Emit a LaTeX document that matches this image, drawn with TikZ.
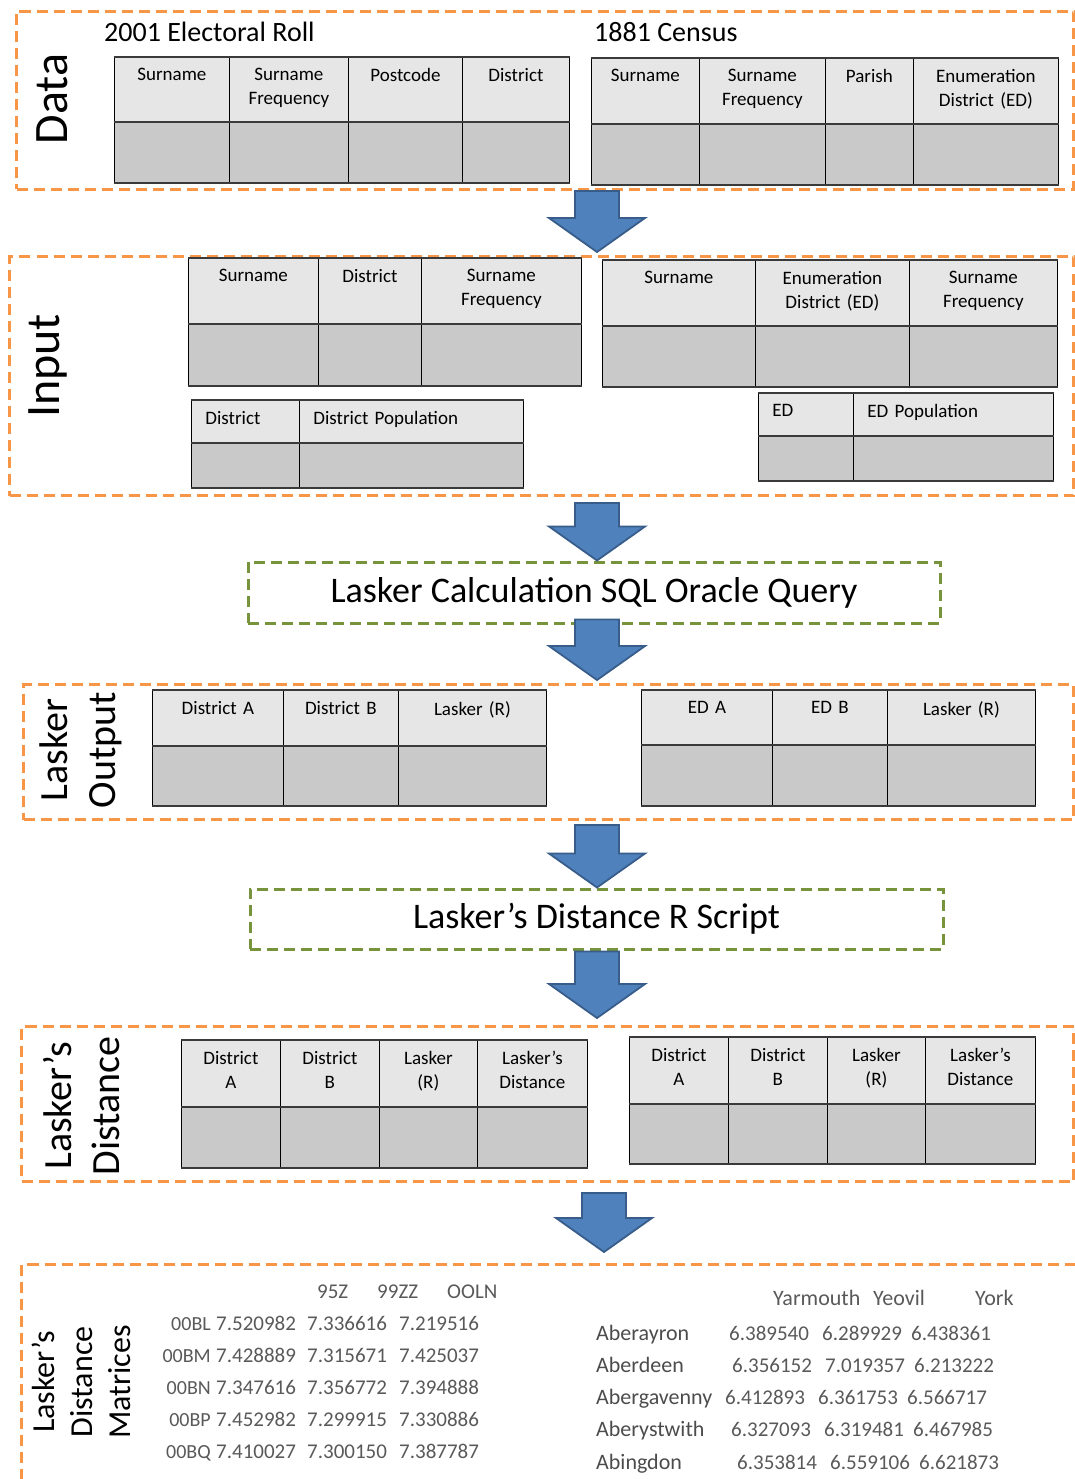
\documentclass[tikz,border=0pt]{standalone}
\usepackage{fontspec}
\setmainfont{Carlito}
\usetikzlibrary{calc,positioning}

\definecolor{stageorange}{HTML}{F79646}
\definecolor{procgreen}{HTML}{77933C}
\definecolor{arrowblue}{HTML}{4F81BD}
\definecolor{arrowedge}{HTML}{385D8A}
\definecolor{headgray}{HTML}{E6E6E6}
\definecolor{bodygray}{HTML}{C9C9C9}
\definecolor{rulegray}{HTML}{3A3A3A}
\definecolor{matgray}{HTML}{595959}

\tikzset{%
    stage_frame/.style={%
        draw=stageorange, line width=3pt, dash pattern=on 11pt off 6pt, anchor=north west, inner sep=0pt
    },
    process_box/.style={%
        draw=procgreen, line width=3pt, dash pattern=on 11pt off 6pt, inner sep=0pt, font=\fontsize{36}{40}\selectfont
    },
    stage_label/.style={%
        rotate=90, align=center, inner sep=0pt
    },
    head_cell/.style={%
        rectangle, draw=black, line width=0.8pt, fill=headgray, anchor=north west, inner sep=0pt
    },
    body_cell/.style={%
        rectangle, draw=black, line width=0.8pt, fill=bodygray, anchor=north west, inner sep=0pt
    },
    head_text/.style={%
        inner sep=0pt, font=\fontsize{19}{24}\selectfont
    },
    tab_rule/.style={%
        draw=rulegray, line width=2.2pt
    },
    flow_arrow/.style={%
        draw=arrowedge, fill=arrowblue, line width=1.8pt
    },
    title_text/.style={%
        anchor=base west, inner sep=0pt, font=\fontsize{28}{32}\selectfont
    },
    mat_text/.style={%
        text=matgray, inner sep=0pt, anchor=base west, font=\fontsize{21}{24}\selectfont
    },
}

% one header row over one empty row
\newcommand{\datatab}[6][center]{%
  \pgfmathsetmacro{\hh}{#4-#3}
  \pgfmathsetmacro{\bh}{#5-#4}
  \foreach \xa/\xb/\txt [count=\i] in {#6} {
    \pgfmathsetmacro{\cw}{\xb-\xa}
    \pgfmathsetmacro{\tw}{\xb-\xa-28}
    \node[head_cell, minimum width=\cw pt, minimum height=\hh pt] (#2-h\i) at (\xa,#3) {};
    \node[body_cell, minimum width=\cw pt, minimum height=\bh pt] (#2-b\i) at (\xa,#4) {};
    \node[head_text, text width=\tw pt, align=#1, below=11pt of #2-h\i.north] (#2-t\i) {\txt};
    \draw[tab_rule] (#2-h\i.north west) -- (#2-h\i.north east);
    \draw[tab_rule] (#2-b\i.north west) -- (#2-b\i.north east);
    \draw[tab_rule] (#2-b\i.south west) -- (#2-b\i.south east);
  }%
}

% block arrow between two points
\newcommand{\flowarrow}[2]{%
  \draw[flow_arrow] let \p1=(#1), \p2=(#2) in
    (\x2-22pt,\y1) -- (\x2+22pt,\y1) -- (\x2+22pt,\y2+34pt) -- (\x2+48pt,\y2+34pt)
    -- (\x2,\y2) -- (\x2-48pt,\y2+34pt) -- (\x2-22pt,\y2+34pt) -- cycle;%
}

\begin{document}
\begin{tikzpicture}[x=1pt,y=-1pt]
  \useasboundingbox (0,0) rectangle (1074,1479);

  % Data
  \node[stage_frame, minimum width=1057pt, minimum height=178pt] (data) at (15,10) {};
  \node[stage_label, font=\fontsize{48}{52}\selectfont] (data-lbl) at (52,99) {Data};
  \node[title_text] (roll) at (104,42) {2001 Electoral Roll};
  \node[title_text] (census) at (594,42) {1881 Census};
  \datatab{er}{57}{122}{182}{114/229/Surname, 229/348/{Surname\\Frequency}, 348/462/Postcode, 462/569/District}
  \datatab{cen}{58}{124}{184}{591/699/Surname, 699/825/{Surname\\Frequency}, 825/913/Parish, 913/1058/{Enumeration\\District (ED)}}

  % Input
  \node[stage_frame, minimum width=1064pt, minimum height=239pt] (input) at (8,255) {};
  \node[stage_label, font=\fontsize{48}{52}\selectfont] (input-lbl) at (48,366) {Input};
  \datatab{ina}{258}{324}{385}{188/318/Surname, 318/421/District, 421/581/{Surname\\Frequency}}
  \datatab{inb}{260}{326}{386}{602/755/Surname, 755/909/{Enumeration\\District (ED)}, 909/1057/{Surname\\Frequency}}
  \datatab[left]{inc}{400}{443}{487}{191/299/District, 299/523/District Population}
  \datatab[left]{ind}{393}{436}{480}{758/853/ED, 853/1053/ED Population}

  % SQL step
  \node[process_box, minimum width=692pt, minimum height=61pt] (sql) at (594,592.5) {Lasker Calculation SQL Oracle Query};

  % Lasker output
  \node[stage_frame, minimum width=1050pt, minimum height=135pt] (out) at (22,683) {};
  \node[stage_label, font=\fontsize{40}{48}\selectfont] (out-lbl) at (81,750) {Lasker\\Output};
  \datatab{outa}{690}{746}{805}{152/283/District A, 283/398/District B, 398/546/Lasker (R)}
  \datatab{outb}{690}{745}{805}{641/772/ED A, 772/887/ED B, 887/1035/Lasker (R)}

  % R step
  \node[process_box, minimum width=693pt, minimum height=60pt] (rscript) at (596.5,919) {Lasker’s Distance R Script};

  % Lasker's distance
  \node[stage_frame, minimum width=1052pt, minimum height=155pt] (dist) at (20,1025) {};
  \node[stage_label, font=\fontsize{40}{48}\selectfont] (dist-lbl) at (82,1106) {Lasker’s\\Distance};
  \datatab{dista}{1040}{1107}{1167}{181/280/{District\\A}, 280/379/{District\\B}, 379/477/{Lasker\\(R)}, 477/587/{Lasker’s\\Distance}}
  \datatab{distb}{1037}{1104}{1163}{629/728/{District\\A}, 728/827/{District\\B}, 827/925/{Lasker\\(R)}, 925/1035/{Lasker’s\\Distance}}

  % matrices
  \node[stage_frame, minimum width=1070pt, minimum height=240pt] (matx) at (20,1263) {};
  \node[stage_label, font=\fontsize{32}{38}\selectfont] (matx-lbl) at (81,1382) {Lasker’s\\Distance\\Matrices};

  \foreach \hx/\htxt [count=\i] in {317/95Z, 377/99ZZ, 447/OOLN}
    \node[mat_text] (ma-c\i) at (\hx,1298) {\htxt};
  \foreach \lab/\va/\vb/\vc [count=\r] in {00BL/7.520982/7.336616/7.219516, 00BM/7.428889/7.315671/7.425037, 00BN/7.347616/7.356772/7.394888, 00BP/7.452982/7.299915/7.330886, 00BQ/7.410027/7.300150/7.387787} {
    \node[mat_text, anchor=base east, font=\fontsize{20}{24}\selectfont] (ma-l\r) at (211,1298+32*\r) {\lab};
    \node[mat_text] (ma-a\r) at (216,1298+32*\r) {\va};
    \node[mat_text] (ma-b\r) at (307,1298+32*\r) {\vb};
    \node[mat_text] (ma-x\r) at (399,1298+32*\r) {\vc};
  }

  \foreach \hx/\htxt [count=\i] in {773/Yarmouth, 873/Yeovil, 975/York}
    \node[mat_text, font=\fontsize{22}{24}\selectfont] (mb-c\i) at (\hx,1305) {\htxt};
  \foreach \lab/\dx/\va/\vb/\vc [count=\r] in {Aberayron/0/6.389540/6.289929/6.438361, Aberdeen/3/6.356152/7.019357/6.213222, Abergavenny/-4/6.412893/6.361753/6.566717, Aberystwith/2/6.327093/6.319481/6.467985, Abingdon/8/6.353814/6.559106/6.621873} {
    \node[mat_text, text=black!70, font=\fontsize{22}{24}\selectfont] (mb-l\r) at (596,1307.75+32.25*\r) {\lab};
    \node[mat_text] (mb-a\r) at (729+\dx,1307.75+32.25*\r) {\va};
    \node[mat_text] (mb-b\r) at (822+\dx,1307.75+32.25*\r) {\vb};
    \node[mat_text] (mb-x\r) at (911+\dx,1307.75+32.25*\r) {\vc};
  }

  % arrows
  \coordinate (axis) at (597,0);
  \coordinate (axis6) at (604,0);
  \flowarrow{data.south -| axis}{$(input.north -| axis)+(0,-3)$}
  \flowarrow{$(input.south -| axis)+(0,6)$}{sql.north -| axis}
  \flowarrow{$(sql.south -| axis)+(0,-5)$}{$(out.north -| axis)+(0,-3)$}
  \flowarrow{$(out.south -| axis)+(0,4)$}{rscript.north -| axis}
  \flowarrow{$(rscript.south -| axis)+(0,1)$}{$(dist.north -| axis)+(0,-7)$}
  \flowarrow{$(dist.south -| axis6)+(0,10)$}{$(matx.north -| axis6)+(0,-11)$}
\end{tikzpicture}
\end{document}
